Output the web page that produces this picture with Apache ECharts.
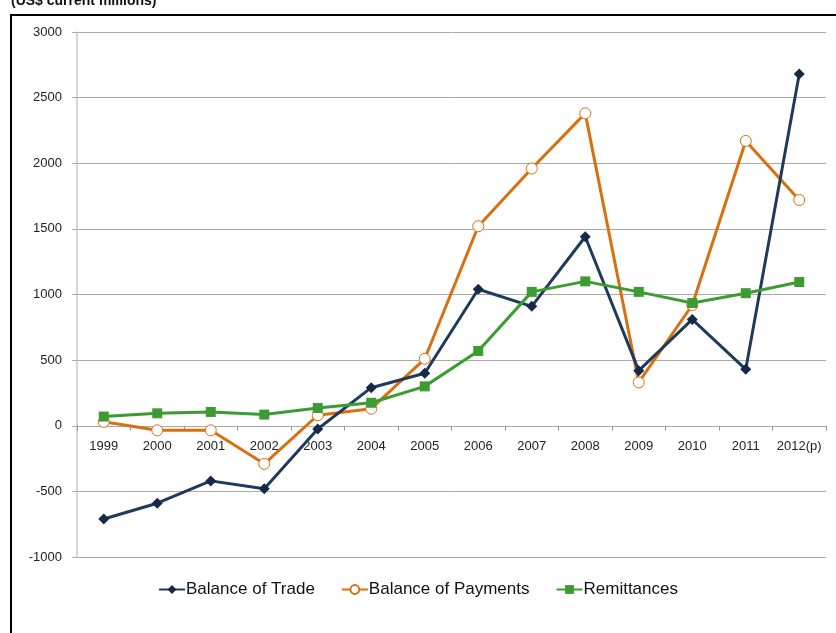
<!DOCTYPE html>
<html><head><meta charset="utf-8">
<script src="https://cdn.jsdelivr.net/npm/echarts@6/dist/echarts.min.js"></script>
<style>html,body{margin:0;padding:0;background:#fff}#c{width:836px;height:633px}</style>
</head><body><div id="c"></div>
<script>
const categories = ['1999','2000','2001','2002','2003','2004','2005','2006','2007','2008','2009','2010','2011','2012(p)'];
const balanceOfTrade = [-710,-590,-420,-480,-25,290,400,1040,910,1440,420,810,430,2680];
const balanceOfPayments = [30,-35,-35,-290,80,130,510,1520,1960,2380,330,920,2170,1720];
const remittances = [70,95,105,85,135,175,300,570,1020,1100,1020,935,1010,1095];
const yTicks = {min:-1000, max:3000, interval:500};

const chart = echarts.init(document.getElementById('c'), null, {renderer:'canvas'});
const font = 'Liberation Sans, Arial, sans-serif';
const gridTop = 32, gridBottom = 76, H = 633;
const plotH = H - gridTop - gridBottom;
const zeroOffset = -plotH * (0 - yTicks.min) / (yTicks.max - yTicks.min);
chart.setOption({
  animation:false,
  backgroundColor:'#fff',
  title:{text:'(US$ current millions)', left:6, top:-11,
    textStyle:{fontFamily:font, fontSize:14, fontWeight:'bold', color:'#111'}},
  graphic:[
    {type:'line', shape:{x1:11,y1:14,x2:11,y2:633}, style:{stroke:'#000', lineWidth:2}, z:100},
    {type:'line', shape:{x1:10,y1:15,x2:836,y2:15}, style:{stroke:'#000', lineWidth:2}, z:100}
  ],
  grid:{left:77, right:10, top:gridTop, bottom:gridBottom, containLabel:false},
  legend:{bottom:30, left:'center', itemWidth:26, itemHeight:11, itemGap:26,
    textStyle:{fontFamily:font, fontSize:17, color:'#111', padding:[0,0,0,-4]},
    data:['Balance of Trade','Balance of Payments','Remittances']},
  xAxis:{type:'category', data:categories, boundaryGap:true, offset:zeroOffset,
    axisLine:{onZero:false, lineStyle:{color:'#aaa', width:1}},
    axisTick:{show:true, alignWithLabel:false, length:5, lineStyle:{color:'#999'}},
    axisLabel:{fontFamily:font, fontSize:13, color:'#222', margin:14, interval:0},
    splitLine:{show:false}},
  yAxis:{type:'value', min:yTicks.min, max:yTicks.max, interval:yTicks.interval,
    axisLine:{show:true, onZero:false, lineStyle:{color:'#c8c8c8', width:1.5}},
    axisTick:{show:true, length:5, lineStyle:{color:'#aaa'}},
    axisLabel:{fontFamily:font, fontSize:13, color:'#222', margin:15, formatter:v => String(v)},
    splitLine:{lineStyle:{color:'#aaa', width:1}}},
  series:[
    {name:'Balance of Trade', type:'line', data:balanceOfTrade, color:'#1d3557',
      symbol:'diamond', symbolSize:11, lineStyle:{width:3, color:'#1f3a5c'},
      itemStyle:{color:'#162a47'}, z:3},
    {name:'Balance of Payments', type:'line', data:balanceOfPayments, color:'#d8700f',
      symbol:'circle', symbolSize:11, lineStyle:{width:3, color:'#d8700f'},
      itemStyle:{color:'#fff', borderColor:'#d8700f', borderWidth:1}, z:2},
    {name:'Remittances', type:'line', data:remittances, color:'#3c9b32',
      symbol:'rect', symbolSize:10, lineStyle:{width:3, color:'#3c9b32'},
      itemStyle:{color:'#3c9b32'}, z:4}
  ]
});
</script></body></html>
